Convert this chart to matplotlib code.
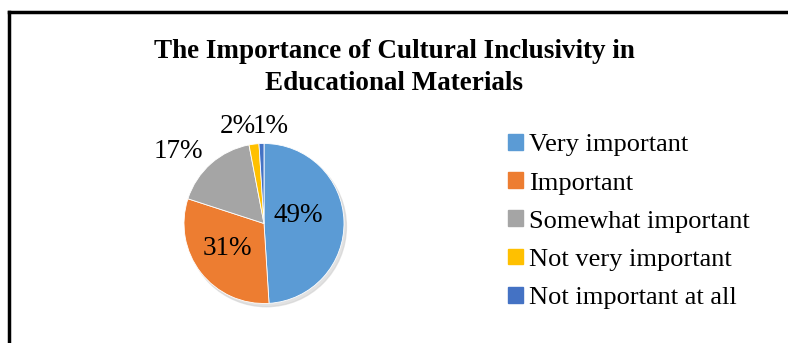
import matplotlib.pyplot as plt
from matplotlib.patches import Circle
import matplotlib.lines as mlines

plt.rcParams['font.family'] = ['Liberation Serif', 'DejaVu Serif']

# survey answers and their shares
categories = ['Very important', 'Important', 'Somewhat important',
              'Not very important', 'Not important at all']
shares = [49, 31, 17, 2, 1]
colors = ['#5B9BD5', '#ED7D31', '#A5A5A5', '#FFC000', '#4472C4']
# where each percentage sits (pie data coords, radius = 1)
label_xy = [(0.43, 0.10), (-0.46, -0.31), (-1.07, 0.90), (-0.33, 1.21), (0.08, 1.21)]

fig = plt.figure(figsize=(7.88, 3.43), dpi=100)

# frame around the chart (top and left edges show)
fig.add_artist(mlines.Line2D([8.5 / 788, 8.5 / 788], [0, 1 - 11.5 / 343],
                             color='black', lw=2.5))
fig.add_artist(mlines.Line2D([8.5 / 788, 1], [1 - 11.5 / 343, 1 - 11.5 / 343],
                             color='black', lw=2.5))

fig.text(0.5, 1 - 52 / 343, 'The Importance of Cultural Inclusivity in',
         ha='center', va='center', fontsize=19.5, fontweight='bold')
fig.text(0.5, 1 - 83 / 343, 'Educational Materials',
         ha='center', va='center', fontsize=19.5, fontweight='bold')

ax = fig.add_axes([(264 - 80) / 788, (343 - 303.5) / 343, 160 / 788, 160 / 343])
# soft drop shadow under the pie
ax.add_patch(Circle((0.03, -0.04), 1.0, color='#d0d0d0', zorder=0, alpha=0.6,
                    clip_on=False))
wedges, _ = ax.pie(shares, colors=colors, startangle=90, counterclock=False,
                   radius=1.0, wedgeprops=dict(linewidth=0.6, edgecolor='white'))
for w in wedges:
    w.set_zorder(1)

for val, (x, y) in zip(shares, label_xy):
    ax.text(x, y, f'{val}%', ha='center', va='center', fontsize=19.5, zorder=3)

ax.set_xlim(-1, 1)
ax.set_ylim(-1, 1)
ax.set_aspect('equal')
ax.axis('off')

handles = [plt.Rectangle((0, 0), 1, 1, color=c) for c in colors]
fig.legend(handles, categories, loc='upper left',
           bbox_to_anchor=(495 / 788, 1 - 121 / 343), frameon=False,
           fontsize=19, handlelength=0.55, handleheight=0.55,
           handletextpad=0.25, labelspacing=0.6, borderpad=0)

fig.savefig('out.png', dpi=100)
